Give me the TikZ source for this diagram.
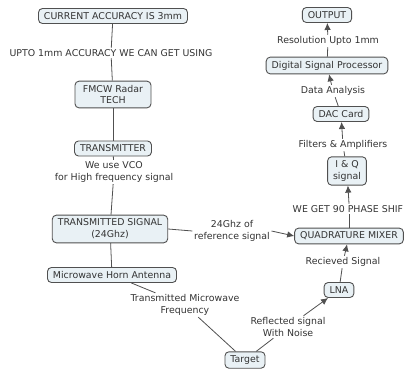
\documentclass[tikz,border=0pt]{standalone}
\usepackage{fontspec}
\setmainfont{DejaVu Sans}
\usepackage{tikz}
\usetikzlibrary{arrows.meta}
\usepackage{xcolor}
\definecolor{conceptfill}{RGB}{233,241,245}
\definecolor{linkgray}{RGB}{80,80,80}

\begin{document}
\begin{tikzpicture}[x=1pt, y=-1pt,
  concept/.style={rectangle, draw=linkgray, fill=conceptfill, line width=0.9pt, rounded corners=4pt, align=center, inner xsep=5.5pt, inner ysep=3.8pt, minimum height=15pt, font=\fontsize{9.4}{11.8}\selectfont, text=black!80},
  phrase/.style={align=center, inner sep=1.5pt, font=\fontsize{9.4}{11.8}\selectfont, text=black!80},
  link/.style={draw=linkgray, line width=0.8pt},
  arrow/.style={link, -{Latex[length=7pt, width=6.5pt]}},
]
\useasboundingbox (0,0) rectangle (404,373);

% left column
\node[concept] (current) at (113,16) {CURRENT ACCURACY IS 3mm};
\node[phrase] (using) at (111,53) {UPTO 1mm ACCURACY WE CAN GET USING};
\node[concept, minimum width=76pt] (fmcw) at (113,94.5) {FMCW Radar\\TECH};
\node[concept] (transmitter) at (113,148.5) {TRANSMITTER};
\node[phrase] (vco) at (114,172) {We use VCO\\for High frequency signal};
\node[concept] (txsignal) at (110,229) {TRANSMITTED SIGNAL\\(24Ghz)};
\node[concept] (horn) at (112,275) {Microwave Horn Antenna};
\node[phrase] (txfreq) at (185,305) {Transmitted Microwave\\Frequency};
\node[concept] (target) at (245,360) {Target};

% receive chain
\node[phrase] (reflected) at (288,327) {Reflected signal\\With Noise};
\node[concept] (lna) at (339,290) {LNA};
\node[phrase] (received) at (343,262) {Recieved Signal};
\node[phrase] (reference) at (232,231) {24Ghz of\\reference signal};
\node[concept] (mixer) at (349,236) {QUADRATURE MIXER};
\node[phrase, anchor=west] (phase) at (291,209) {WE GET 90 PHASE SHIF};
\node[concept] (iq) at (347,171) {I \& Q\\signal};
\node[phrase] (filters) at (343,145) {Filters \& Amplifiers};
\node[concept] (dac) at (341,114) {DAC Card};
\node[phrase] (analysis) at (333,91) {Data Analysis};
\node[concept] (dsp) at (327,65.5) {Digital Signal Processor};
\node[phrase] (resolution) at (328,41) {Resolution Upto 1mm};
\node[concept] (output) at (327,15) {OUTPUT};

\draw[link] (current) -- (using) -- (fmcw);
\draw[link] (fmcw) -- (transmitter);
\draw[link] (transmitter) -- (vco) -- (txsignal);
\draw[link] (txsignal) -- (horn);
\draw[link] (txsignal.east) -- (reference.west);
\draw[arrow] (reference.east) -- (mixer.west);
\draw[link] (horn) -- (txfreq) -- (target);
\draw[link] (target) -- (reflected);
\draw[arrow] (reflected) -- (lna);
\draw[link] (lna) -- (received);
\draw[arrow] (received) -- (mixer);
\draw[link] (mixer) -- (mixer |- phase.south);
\draw[arrow] (phase.north -| mixer) -- (iq);
\draw[link] (iq) -- (filters);
\draw[arrow] (filters) -- (dac);
\draw[link] (dac) -- (analysis);
\draw[arrow] (analysis) -- (dsp);
\draw[link] (dsp) -- (resolution);
\draw[arrow] (resolution) -- (output);

\end{tikzpicture}
\end{document}
